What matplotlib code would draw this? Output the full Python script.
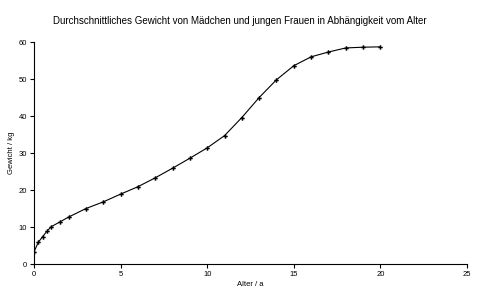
import matplotlib
matplotlib.use('Agg')
import matplotlib.pyplot as plt

alter = [0, 0.25, 0.5, 0.75, 1, 1.5, 2, 3, 4, 5, 6, 7, 8, 9, 10,
         11, 12, 13, 14, 15, 16, 17, 18, 19, 20]
gewicht = [3.3, 5.9, 7.4, 8.9, 10.1, 11.4, 12.7, 15.0, 16.8, 18.9, 20.9, 23.3, 25.9, 28.6, 31.4,
           34.7, 39.6, 45.0, 49.8, 53.6, 56.0, 57.3, 58.4, 58.6, 58.7]

plt.rcParams['font.family'] = 'Liberation Sans'

fig = plt.figure(figsize=(4.79, 2.98), dpi=100)
ax = fig.add_axes([0.071, 0.114, 0.904, 0.745])

ax.plot(alter, gewicht, c='black', lw=0.8, marker='P', markersize=3.2, markeredgewidth=0)

ax.set_xlim(0, 25)
ax.set_ylim(0, 60)
ax.set_xticks([0, 5, 10, 15, 20, 25])
ax.set_yticks([0, 10, 20, 30, 40, 50, 60])
ax.spines['top'].set_visible(False)
ax.spines['right'].set_visible(False)
ax.tick_params(labelsize=5.5, length=3, width=0.8, pad=2)

ax.set_xlabel('Alter / a', fontsize=5.5, labelpad=2)
ax.set_ylabel('Gewicht / kg', fontsize=5.5, labelpad=3)
fig.text(0.5, 0.93, 'Durchschnittliches Gewicht von Mädchen und jungen Frauen in Abhängigkeit vom Alter',
         ha='center', va='center', fontsize=7)

fig.savefig('out.png', dpi=100)
